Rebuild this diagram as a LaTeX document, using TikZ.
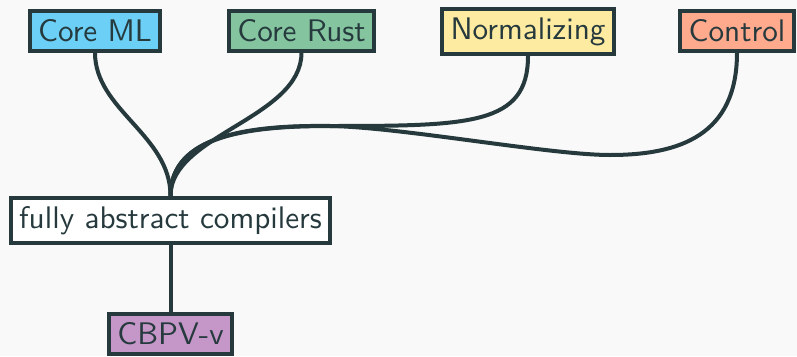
\documentclass[tikz,border=0pt]{standalone}
\usepackage{graphicx}
\definecolor{ink}{HTML}{263A3E}
\definecolor{bg}{HTML}{F9F9F9}
\definecolor{mlblue}{HTML}{6BCFF6}
\definecolor{rustgreen}{HTML}{84C5A0}
\definecolor{normyellow}{HTML}{FDEBA1}
\definecolor{ctrlsalmon}{HTML}{FFA98D}
\definecolor{cbpvpurple}{HTML}{C497C8}
\newcommand{\boxtext}[1]{\scalebox{3.12}{\fontsize{10}{12}\sffamily #1}}
\tikzset{
  topic/.style={draw=ink, line width=4pt, inner sep=8.5pt, text=ink, fill=#1},
  link/.style={draw=ink, line width=4pt},
}
\begin{document}
\begin{tikzpicture}[x=1pt, y=-1pt]
  \fill[bg] (0,0) rectangle (797,356);
  \useasboundingbox (0,0) rectangle (797,356);

  % source languages along the top
  \node[topic=mlblue]     (ml)   at (95,31)    {\boxtext{Core ML}};
  \node[topic=rustgreen]  (rust) at (301.5,31) {\boxtext{Core Rust}};
  \node[topic=normyellow] (norm) at (528,31.5) {\boxtext{Normalizing}};
  \node[topic=ctrlsalmon] (ctrl) at (737,31)   {\boxtext{Control}};

  % central theme and its target
  \node[topic=white]      (fac)  at (170.5,220.5) {\boxtext{fully abstract compilers}};
  \node[topic=cbpvpurple] (cbpv) at (170.5,334)   {\boxtext{CBPV-v}};

  % curved connectors converging on the central node
  \draw[link] (ml.south) .. controls (95,110) and (170.5,135) .. (fac.north);
  \draw[link] (rust.south) .. controls (301.5,118) and (170.5,135) .. (fac.north);
  \draw[link] (norm.south) .. controls (528,125) and (470,126) .. (330,126)
                            .. controls (250,126) and (170.5,135) .. (fac.north);
  \draw[link] (ctrl.south) .. controls (737,135) and (680,155) .. (610,155)
                            .. controls (550,155) and (400,127) .. (330,126)
                            .. controls (250,125) and (170.5,135) .. (fac.north);

  \draw[link] (fac.south) -- (cbpv.north);
\end{tikzpicture}
\end{document}
